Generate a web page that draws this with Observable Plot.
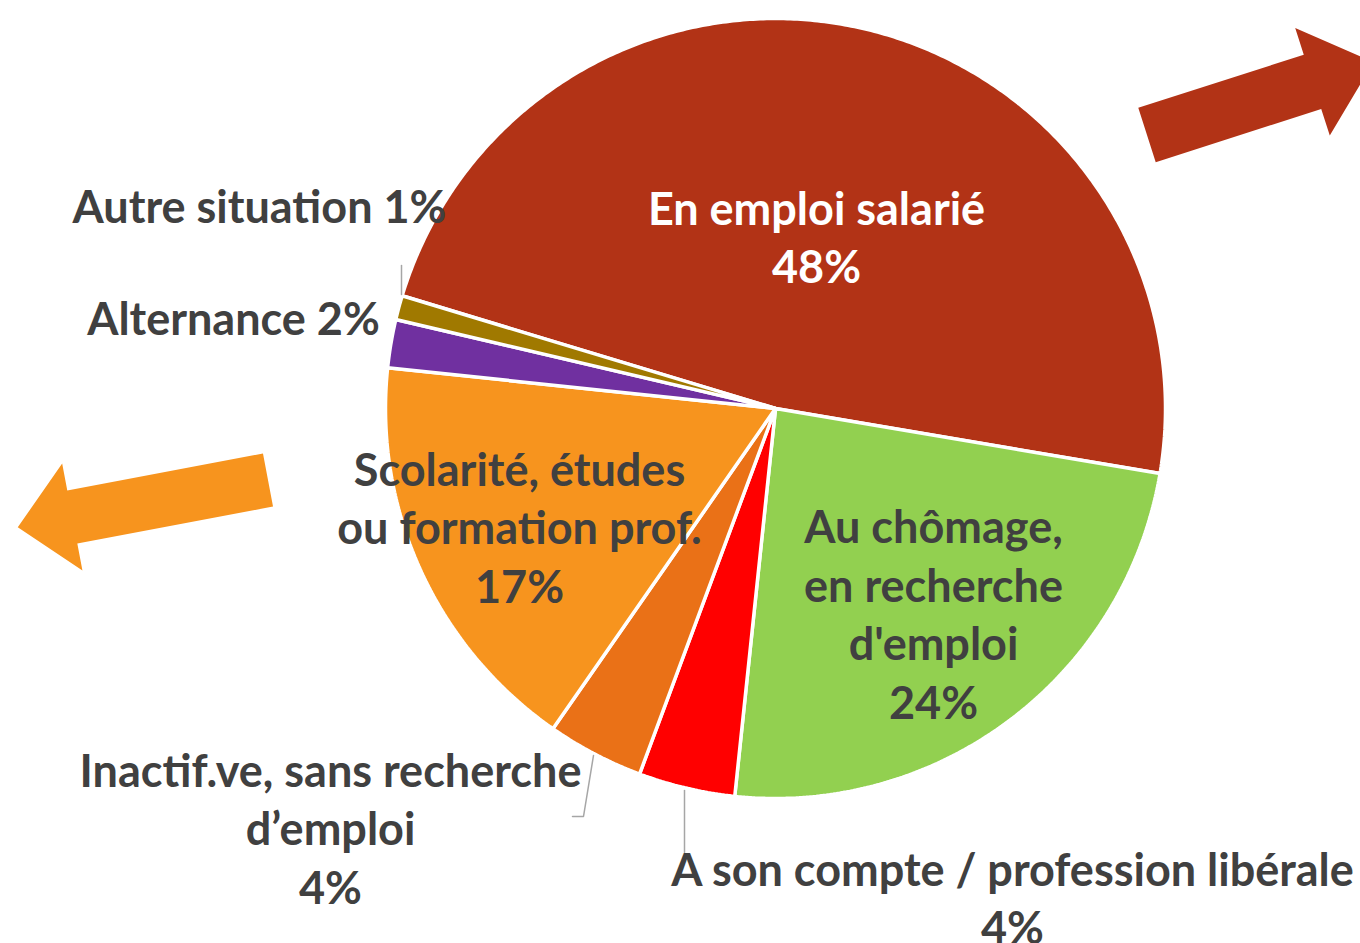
<!DOCTYPE html>
<html>
<head>
<meta charset="utf-8">
<script src="https://cdn.jsdelivr.net/npm/d3@7"></script>
<script src="https://cdn.jsdelivr.net/npm/@observablehq/plot@0.6"></script>
<style>
  html, body { margin: 0; padding: 0; background: #fff; }
  #chart svg { display: block; }
</style>
</head>
<body>
<div id="chart"></div>
<script>
// ---- data ----
const categories = [
  "En emploi salarié",
  "Au chômage, en recherche d'emploi",
  "A son compte / profession libérale",
  "Inactif.ve, sans recherche d’emploi",
  "Scolarité, études ou formation prof.",
  "Alternance",
  "Autre situation"
];
const values = [48, 24, 4, 4, 17, 2, 1];
const labelLines = [
  ["En emploi salarié"],
  ["Au chômage,", "en recherche", "d'emploi"],
  ["A son compte / profession libérale"],
  ["Inactif.ve, sans recherche", "d’emploi"],
  ["Scolarité, études", "ou formation prof."],
  ["Alternance"],
  ["Autre situation"]
];
const inlinePercent = [false, false, false, false, false, true, true];
const colors = ["#B23316", "#92D050", "#FF0000", "#EA7117", "#F7941E", "#7030A0", "#A07900"];

// ---- layout (pixels) ----
const W = 1360, H = 943;
const cx = 775, cy = 408, R = 390;
const startDeg = 286.8;
const labelPos = [
  [816, 235], [933, 612], [1012, 896], [330, 826], [519, 525], [233, 316], [259, 204]
];
const labelColor = ["#ffffff", "#404040", "#404040", "#404040", "#404040", "#404040", "#404040"];
const leaders = [
  [[401, 265], [401, 294]],
  [[593, 755], [583, 816], [572, 816]],
  [[684, 790], [684, 852]]
];
const arrows = [
  {tail: [1146.5, 134.5], base: [1312, 81.3], shaft: 57, head: 113, headLen: 64, color: "#B23316"},
  {tail: [267.5, 479.5], base: [71.8, 516.5], shaft: 54, head: 109, headLen: 55.5, color: "#F7941E"}
];

// ---- build slices ----
const start = startDeg * Math.PI / 180;
const pie = d3.pie().sort(null).value(d => d.value).startAngle(start).endAngle(start + 2 * Math.PI);
const table = categories.map((c, i) => ({category: c, value: values[i], i}));
const arcs = pie(table);
const slicePts = [];
for (const a of arcs) {
  slicePts.push({category: a.data.category, x: cx, y: cy});
  const n = Math.max(2, Math.ceil((a.endAngle - a.startAngle) / (Math.PI / 360)));
  for (let k = 0; k <= n; k++) {
    const t = a.startAngle + (a.endAngle - a.startAngle) * k / n;
    slicePts.push({category: a.data.category, x: cx + R * Math.sin(t), y: cy - R * Math.cos(t)});
  }
}

// labels
const labels = table.map((d, i) => ({
  text: inlinePercent[i]
    ? labelLines[i].join("\n") + " " + d.value + "%"
    : [...labelLines[i], d.value + "%"].join("\n"),
  x: labelPos[i][0], y: labelPos[i][1], fill: labelColor[i]
}));

// leader lines
const leaderPts = leaders.flatMap((l, j) => l.map(p => ({id: j, x: p[0], y: p[1]})));

// arrows
const arrowPts = arrows.flatMap((a, j) => {
  const dx = a.base[0] - a.tail[0], dy = a.base[1] - a.tail[1];
  const len = Math.hypot(dx, dy);
  const ux = dx / len, uy = dy / len, nx = -uy, ny = ux;
  const pts = [
    [a.tail[0] + nx * a.shaft / 2, a.tail[1] + ny * a.shaft / 2],
    [a.base[0] + nx * a.shaft / 2, a.base[1] + ny * a.shaft / 2],
    [a.base[0] + nx * a.head / 2, a.base[1] + ny * a.head / 2],
    [a.base[0] + ux * a.headLen, a.base[1] + uy * a.headLen],
    [a.base[0] - nx * a.head / 2, a.base[1] - ny * a.head / 2],
    [a.base[0] - nx * a.shaft / 2, a.base[1] - ny * a.shaft / 2],
    [a.tail[0] - nx * a.shaft / 2, a.tail[1] - ny * a.shaft / 2]
  ];
  return pts.map(p => ({id: j, x: p[0], y: p[1], color: a.color}));
});

const chart = Plot.plot({
  width: W, height: H,
  margin: 0,
  x: {domain: [0, W], range: [0, W], axis: null},
  y: {domain: [0, H], range: [0, H], axis: null},
  color: {domain: categories, range: colors},
  style: {fontFamily: "Lato, 'Open Sans', sans-serif", background: "#fff"},
  marks: [
    Plot.line(arrowPts, {x: "x", y: "y", z: "id", fill: d => d.color, stroke: "none", curve: "linear-closed"}),
    Plot.line(slicePts, {x: "x", y: "y", z: "category", fill: "category", stroke: "#fff", strokeWidth: 3.5, strokeLinejoin: "miter", curve: "linear-closed"}),
    Plot.line(leaderPts, {x: "x", y: "y", z: "id", stroke: "#A6A6A6", strokeWidth: 1.5}),
    Plot.text(labels, {x: "x", y: "y", text: "text", fill: "fill", fontSize: 45, fontWeight: "bold", lineHeight: 1.3, lineAnchor: "middle", textAnchor: "middle"})
  ]
});
document.getElementById("chart").appendChild(chart);
</script>
</body>
</html>
